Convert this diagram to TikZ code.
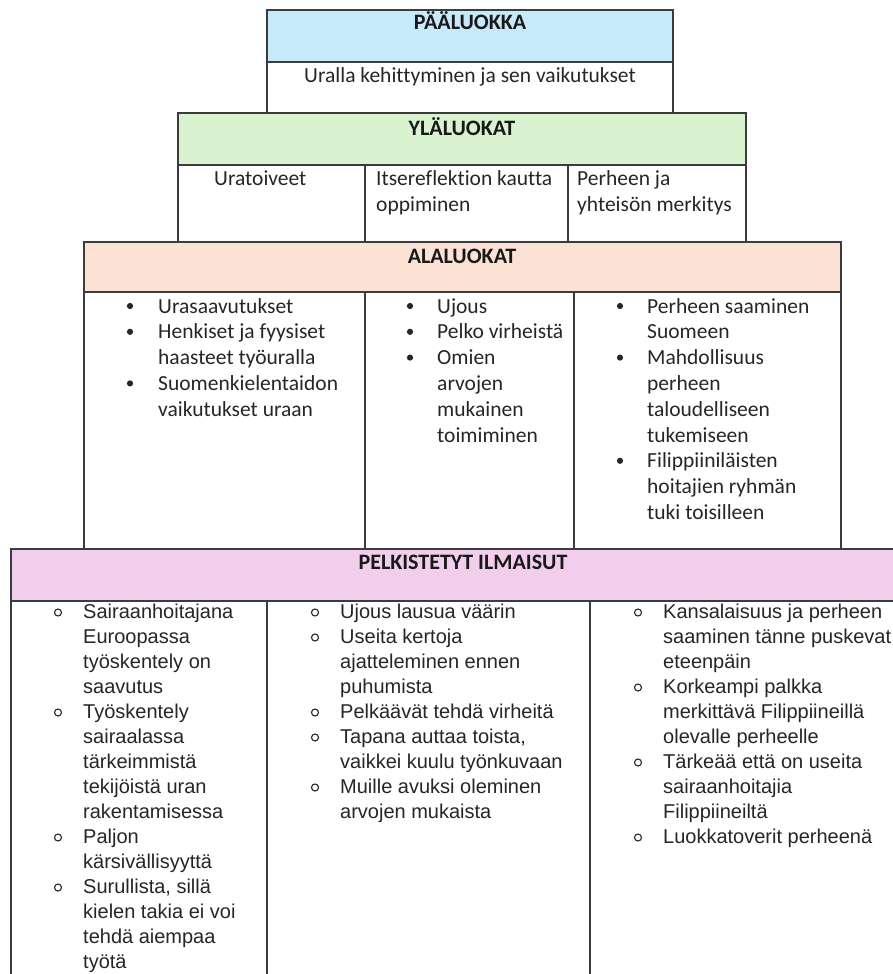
\documentclass[tikz,border=0pt]{standalone}
\usepackage{fontspec}
\setmainfont{Carlito}[Ligatures=CommonOff]
\newfontfamily\pelkfont{Liberation Sans}
\definecolor{pblue}{RGB}{199,234,250}
\definecolor{pgreen}{RGB}{217,242,208}
\definecolor{ppeach}{RGB}{251,226,213}
\definecolor{ppink}{RGB}{242,206,237}
\definecolor{pline}{RGB}{60,60,60}
\tikzset{
  frame/.style={draw=pline, line width=1.3pt},
  head/.style={font=\bfseries\fontsize{22}{26}\selectfont, text=black!90, inner sep=0, anchor=base},
  body/.style={font=\fontsize{21.5}{26}\selectfont, text=black!85, inner sep=0, anchor=base west},
  bodyc/.style={font=\fontsize{21.5}{26}\selectfont, text=black!85, inner sep=0, anchor=base},
  pbody/.style={font=\pelkfont\fontsize{20}{25}\selectfont, text=black!85, inner sep=0, anchor=base west},
}
\newcommand\txtlines[6]{\foreach \t [count=\i from 0] in {#6} {\node[#1] (#2-\i) at (#3,{#4+\i*#5}) {\t};}}
\newcommand\bdot[2]{\fill[black!85] (#1,{#2-7}) circle (3.1pt);}
\newcommand\bring[2]{\draw[black!85, line width=1.1pt] (#1,{#2-5.5}) circle (3.5pt);}
\begin{document}
\begin{tikzpicture}[x=1pt,y=-1pt]
\useasboundingbox (0,0) rectangle (893,974);
\clip (0,0) rectangle (893,974);
% fills
\fill[white] (0,0) rectangle (893,974);
\fill[pblue] (267,10) rectangle (673,62);
\fill[pgreen] (178,113) rectangle (746,165);
\fill[ppeach] (84,242) rectangle (841,292);
\fill[ppink] (11,549) rectangle (915,601);
% frames
\draw[frame] (267,10) rectangle (673,113);
\draw[frame] (267,62) -- (673,62);
\draw[frame] (178,113) rectangle (746,242);
\draw[frame] (178,165) -- (746,165);
\draw[frame] (365,165) -- (365,242);
\draw[frame] (568,165) -- (568,242);
\draw[frame] (84,242) rectangle (841,549);
\draw[frame] (84,292) -- (841,292);
\draw[frame] (365,292) -- (365,549);
\draw[frame] (574,292) -- (574,549);
\draw[frame] (11,549) rectangle (915,1000);
\draw[frame] (11,601) -- (915,601);
\draw[frame] (267,601) -- (267,1000);
\draw[frame] (590,601) -- (590,1000);
% headers
\node[head] (h1) at (470,30) {PÄÄLUOKKA};
\node[bodyc] (main) at (470,82) {Uralla kehittyminen ja sen vaikutukset};
\node[head] (h2) at (462,135) {YLÄLUOKAT};
\node[head] (h3) at (462,263) {ALALUOKAT};
\node[head] (h4) at (463,569) {PELKISTETYT ILMAISUT};
% ylaluokat cells
\txtlines{body}{ya}{214}{185}{26}{Uratoiveet}
\txtlines{body}{yb}{376}{185}{26}{Itsereflektion kautta, oppiminen}
\txtlines{body}{yc}{577}{185}{26}{Perheen ja, yhteisön merkitys}
% alaluokat
\txtlines{body}{aa}{158}{313}{25.8}{Urasaavutukset, Henkiset ja fyysiset, haasteet työuralla, Suomenkielentaidon, vaikutukset uraan}
\bdot{130}{313}
\bdot{130}{338.8}
\bdot{130}{390.4}
\txtlines{body}{ab}{437}{313}{25.8}{Ujous, Pelko virheistä, Omien, arvojen, mukainen, toimiminen}
\bdot{410}{313}
\bdot{410}{338.8}
\bdot{410}{364.6}
\txtlines{body}{ac}{647}{313}{25.8}{Perheen saaminen, Suomeen, Mahdollisuus, perheen, taloudelliseen, tukemiseen, Filippiiniläisten, hoitajien ryhmän, tuki toisilleen}
\bdot{620}{313}
\bdot{620}{364.6}
\bdot{620}{467.8}
% pelkistetyt
\txtlines{pbody}{pa}{83}{618}{25.0}{Sairaanhoitajana, Euroopassa, työskentely on, saavutus, Työskentely, sairaalassa, tärkeimmistä, tekijöistä uran, rakentamisessa, Paljon, kärsivällisyyttä, {Surullista, sillä}, kielen takia ei voi, tehdä aiempaa, työtä}
\bring{58}{618}
\bring{58}{718}
\bring{58}{843}
\bring{58}{893}
\txtlines{pbody}{pb}{340}{618}{25.0}{Ujous lausua väärin, Useita kertoja, ajatteleminen ennen, puhumista, Pelkäävät tehdä virheitä, {Tapana auttaa toista,}, vaikkei kuulu työnkuvaan, Muille avuksi oleminen, arvojen mukaista}
\bring{315}{618}
\bring{315}{643}
\bring{315}{718}
\bring{315}{743}
\bring{315}{793}
\txtlines{pbody}{pc}{663}{618}{25.0}{Kansalaisuus ja perheen, saaminen tänne puskevat, eteenpäin, Korkeampi palkka, merkittävä Filippiineillä, olevalle perheelle, Tärkeää että on useita, sairaanhoitajia, Filippiineiltä, Luokkatoverit perheenä}
\bring{638}{618}
\bring{638}{693}
\bring{638}{768}
\bring{638}{843}
\end{tikzpicture}
\end{document}
